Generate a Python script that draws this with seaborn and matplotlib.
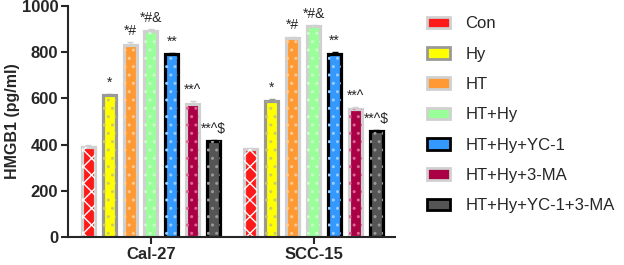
import matplotlib
matplotlib.use("Agg")
import matplotlib.pyplot as plt
from matplotlib.patches import Patch, Rectangle
import seaborn as sns
import pandas as pd

# data
cells = ["Cal-27", "SCC-15"]
groups = ["Con", "Hy", "HT", "HT+Hy", "HT+Hy+YC-1", "HT+Hy+3-MA", "HT+Hy+YC-1+3-MA"]
cal27 = [390, 615, 830, 890, 792, 577, 415]
scc15 = [380, 590, 860, 915, 792, 555, 460]
cal27_err = [8, 5, 15, 12, 5, 12, 3]
scc15_err = [5, 6, 8, 3, 8, 6, 3]
cal27_marks = ["", "*", "*#", "*#&", "**", "**^", "**^$"]
scc15_marks = ["", "*", "*#", "*#&", "**", "**^", "**^$"]

faces = ["#ff1a1a", "#ffff00", "#ff9933", "#99ff99", "#3399ff", "#aa0044", "#555555"]
edges = ["#d0d0d0", "#999999", "#d0d0d0", "#d0d0d0", "#000000", "#d0d0d0", "#000000"]
hatch_cols = ["white", "#cccc66", "#ffcc99", "#ccffcc", "#99ccff", "#dd6699", "#999999"]
hatches = ["xx", "..", "..", "..", "..", "..", ".."]

rows = []
for g, a, b in zip(groups, cal27, scc15):
    rows.append({"cell": cells[0], "group": g, "value": a})
    rows.append({"cell": cells[1], "group": g, "value": b})
df = pd.DataFrame(rows)

sns.set_style("ticks")
plt.rcParams["font.family"] = ["Liberation Sans", "DejaVu Sans"]
plt.rcParams["hatch.linewidth"] = 1.0

fig = plt.figure(figsize=(6.24, 2.65), dpi=100)
ax = fig.add_axes([0.109, 0.106, 0.524, 0.871])

sns.barplot(data=df, x="cell", y="value", hue="group", order=cells, hue_order=groups,
            palette=faces, saturation=1, errorbar=None, width=0.9, gap=0.38,
            legend=False, ax=ax)

errs = [cal27_err, scc15_err]
marks = [cal27_marks, scc15_marks]
bar_conts = list(ax.containers)
for gi, cont in enumerate(bar_conts):
    for ci, bar in enumerate(cont):
        bar.set_edgecolor(edges[gi])
        bar.set_linewidth(2.3)
        x = bar.get_x() + bar.get_width() / 2
        h = bar.get_height()
        # hatch overlay
        ax.add_patch(Rectangle(bar.get_xy(), bar.get_width(), h, facecolor="none",
                               edgecolor=hatch_cols[gi], hatch=hatches[gi], linewidth=0,
                               zorder=bar.get_zorder() + 0.1))
        ax.errorbar(x, h, yerr=[[0], [errs[ci][gi]]], color=edges[gi], capsize=2,
                    elinewidth=1, capthick=1, zorder=1)
        if marks[ci][gi]:
            ax.text(x, h + errs[ci][gi] + 18, marks[ci][gi], ha="center", va="bottom",
                    fontsize=10)

ax.set_ylim(0, 1000)
ax.set_xlim(-0.51, 1.5)
ax.set_yticks([0, 200, 400, 600, 800, 1000])
ax.set_xlabel("")
ax.set_ylabel("HMGB1 (pg/ml)", fontsize=11.5, fontweight="bold", labelpad=1)
ax.tick_params(axis="both", labelsize=12, width=1.5, length=5, pad=2)
for lab in ax.get_xticklabels() + ax.get_yticklabels():
    lab.set_fontweight("bold")
sns.despine(ax=ax)
ax.spines["left"].set_linewidth(1.5)
ax.spines["bottom"].set_linewidth(1.5)

handles = [Patch(facecolor=f, edgecolor=e, linewidth=2) for f, e in zip(faces, edges)]
leg = fig.legend(handles, groups, loc="upper left", bbox_to_anchor=(0.66, 0.995),
                 frameon=False, fontsize=12, handlelength=1.4, handleheight=0.7,
                 labelspacing=0.92, handletextpad=0.9)

fig.savefig("out.png", dpi=100)
